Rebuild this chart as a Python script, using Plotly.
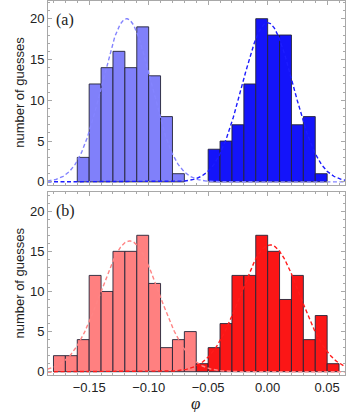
import numpy as np
import plotly.graph_objects as go
from plotly.subplots import make_subplots

# %%
# Histogram data (bin width 0.01, given by left edge of first bin)
bin_w = 0.01
a_light_start = -0.16
a_light_counts = [3, 12, 14, 16, 14, 19, 13, 8, 1]
a_dark_start = -0.05
a_dark_counts = [4, 5, 7, 12, 20, 18, 18, 7, 8, 1]

b_light_start = -0.18
b_light_counts = [2, 2, 4, 12, 10, 15, 15, 17, 11, 3, 4, 5]
b_dark_start = -0.06
b_dark_counts = [1, 3, 6, 12, 12, 17, 15, 9, 12, 4, 7, 1]

# Gaussian fits: (mean, sigma, amplitude)
a_light_fit = (-0.1185, 0.0205, 20.0)
a_dark_fit = (0.0, 0.0215, 19.5)
b_light_fit = (-0.116, 0.0245, 16.3)
b_dark_fit = (0.002, 0.025, 15.8)

x_ticks = [-0.15, -0.10, -0.05, 0.00, 0.05]
y_ticks = [0, 5, 10, 15, 20]

# %%
fig = make_subplots(rows=2, cols=1, shared_xaxes=True, vertical_spacing=0)

xs = np.linspace(-0.185, 0.065, 400)

def add_hist(start, counts, color, row):
    left = [start + i * bin_w for i in range(len(counts))]
    fig.add_trace(go.Bar(x=left, y=counts, width=bin_w, offset=0,
                         marker=dict(color=color, line=dict(color='rgba(35,35,55,0.9)', width=1)),
                         showlegend=False), row=row, col=1)

def add_fit(params, color, row):
    mu, sig, amp = params
    ys = amp * np.exp(-(xs - mu) ** 2 / (2 * sig ** 2))
    fig.add_trace(go.Scatter(x=xs, y=ys, mode='lines',
                             line=dict(color=color, width=1.4, dash='4px,2.5px'),
                             showlegend=False), row=row, col=1)

add_hist(a_light_start, a_light_counts, '#8080fa', 1)
add_hist(a_dark_start, a_dark_counts, '#1414fa', 1)
add_fit(a_light_fit, '#8484ff', 1)
add_fit(a_dark_fit, '#1c1cff', 1)

add_hist(b_light_start, b_light_counts, '#ff8080', 2)
add_hist(b_dark_start, b_dark_counts, '#fb1616', 2)
add_fit(b_light_fit, '#ff8484', 2)
add_fit(b_dark_fit, '#ff1c1c', 2)

axis_style = dict(showline=True, linecolor='#a8a8a8', linewidth=1, mirror='ticks',
                  ticks='inside', ticklen=4, tickcolor='#a8a8a8', showgrid=False,
                  zeroline=False, automargin=False,
                  tickfont=dict(family='Liberation Sans', size=13, color='#222'))

fig.update_xaxes(range=[-0.1846, 0.065], tickvals=x_ticks, tickformat='.2f',
                 minor=dict(dtick=0.01, tick0=0, ticks='inside', ticklen=2, tickcolor='#a8a8a8'),
                 **axis_style)
fig.update_xaxes(showticklabels=False, row=1, col=1)

fig.update_yaxes(tickvals=y_ticks,
                 minor=dict(dtick=1, tick0=0, ticks='inside', ticklen=2, tickcolor='#a8a8a8'),
                 **axis_style)
fig.update_yaxes(range=[-0.34, 22.17], domain=[0.509, 1.0], row=1, col=1)
fig.update_yaxes(range=[-0.41, 22.38], domain=[0.0, 0.489], row=2, col=1)

# panel labels
for ax, lab in [('', '(a)'), ('2', '(b)')]:
    fig.add_annotation(text=lab, xref='x' + ax + ' domain', yref='y' + ax + ' domain', x=0.02, y=0.895,
                       xanchor='left', yanchor='middle', showarrow=False,
                       font=dict(family='Liberation Serif', size=16, color='#222'))
    fig.add_annotation(text='number of guesses', xref='paper', yref='y' + ax + ' domain',
                       x=0, xshift=-28, y=0.5, textangle=-90, xanchor='center', yanchor='middle',
                       showarrow=False, font=dict(family='Liberation Sans', size=13, color='#222'))

fig.add_annotation(text='<i>φ</i>', xref='paper', yref='paper', x=0.498, y=-0.075,
                   xanchor='center', yanchor='middle', showarrow=False,
                   font=dict(family='Liberation Serif', size=17, color='#222'))

fig.update_layout(width=357, height=412, margin=dict(l=48, r=12, t=1, b=37),
                  plot_bgcolor='white', paper_bgcolor='white', barmode='overlay')

# page body has a default 8px margin; drop it so the figure sits at 0,0
fig.write_html("out.html", config={'displayModeBar': False},
               post_script="document.body.style.margin='0';")
